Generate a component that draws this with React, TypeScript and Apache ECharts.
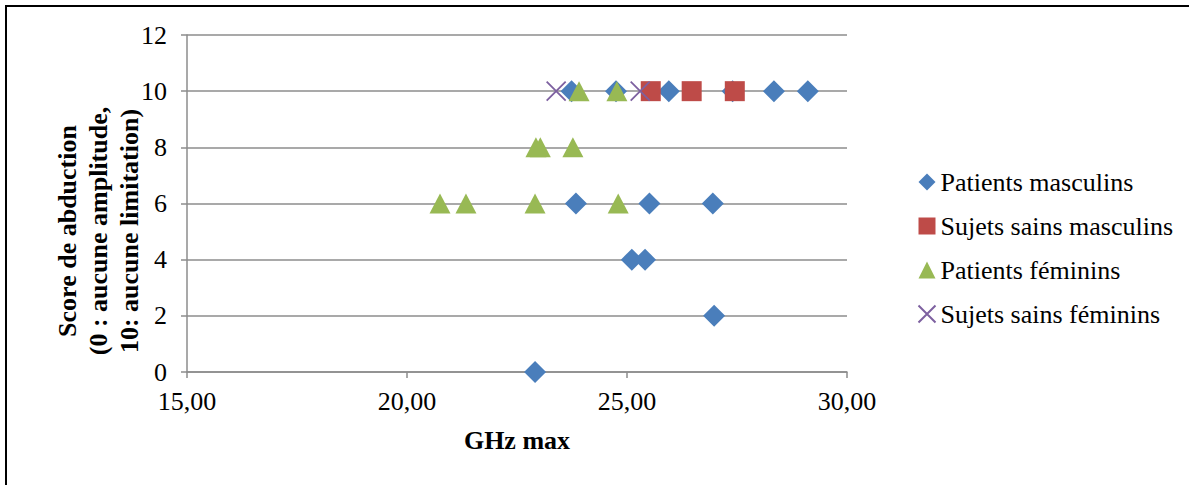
import React, { useEffect, useRef } from "react";
import * as echarts from "echarts";

const seriesNames = [
  "Patients masculins",
  "Sujets sains masculins",
  "Patients féminins",
  "Sujets sains féminins",
];

const patientsMasculinsX = [23.74, 24.75, 25.95, 27.4, 28.34, 29.11, 23.84, 25.51, 26.95, 25.11, 25.41, 26.98, 22.91];
const patientsMasculinsY = [10, 10, 10, 10, 10, 10, 6, 6, 6, 4, 4, 2, 0];

const sujetsSainsMasculinsX = [25.54, 26.47, 27.45];
const sujetsSainsMasculinsY = [10, 10, 10];

const patientsFemininsX = [23.91, 24.77, 22.93, 23.03, 23.77, 20.75, 21.34, 22.91, 24.8];
const patientsFemininsY = [10, 10, 8, 8, 8, 6, 6, 6, 6];

const sujetsSainsFemininsX = [23.39, 25.3];
const sujetsSainsFemininsY = [10, 10];

const xTitle = "GHz max";
const yTitle = "Score de abduction\n(0 : aucune amplitude,\n10: aucune limitation)";

const colors = ["#4A7EBB", "#BE4B48", "#98B954", "#7D60A0"];
const FONT = "Liberation Serif";

const zip = (xs: number[], ys: number[]) => xs.map((x, i) => [x, ys[i]]);

const CROSS = "path://M0,0L20,20M20,0L0,20";

export default function App() {
  const ref = useRef<HTMLDivElement>(null);
  useEffect(() => {
    if (!ref.current) return;
    const chart = echarts.init(ref.current, null, { renderer: "svg" });
    const gridColor = "#8C8C8C";
    chart.setOption({
      animation: false,
      backgroundColor: "#fff",
      textStyle: { fontFamily: FONT },
      grid: { left: 187, right: 342, top: 35, bottom: 113, containLabel: false },
      xAxis: {
        type: "value",
        min: 15,
        max: 30,
        interval: 5,
        axisLine: { show: true, onZero: false, lineStyle: { color: gridColor, width: 1.5 } },
        axisTick: { show: true, length: 6, lineStyle: { color: gridColor, width: 1.5 } },
        splitLine: { show: false },
        axisLabel: {
          margin: 16,
          fontFamily: FONT,
          fontSize: 26,
          color: "#000",
          formatter: (v: number) => v.toFixed(2).replace(".", ","),
        },
      },
      yAxis: {
        type: "value",
        min: 0,
        max: 12,
        interval: 2,
        axisLine: { show: true, onZero: false, lineStyle: { color: gridColor, width: 1.5 } },
        axisTick: { show: true, length: 6, lineStyle: { color: gridColor, width: 1.5 } },
        splitLine: { show: true, lineStyle: { color: gridColor, width: 1.5 } },
        axisLabel: { margin: 20, fontFamily: FONT, fontSize: 26, color: "#000" },
      },
      legend: {
        orient: "vertical",
        left: 916,
        top: 169,
        padding: 0,
        itemWidth: 17,
        itemHeight: 17,
        itemGap: 18,
        textStyle: { fontFamily: FONT, fontSize: 26, color: "#000", lineHeight: 26 },
        data: seriesNames,
      },
      graphic: [
        {
          type: "rect",
          shape: { x: 6, y: 6, width: 1300, height: 600 },
          style: { fill: "none", stroke: "#000", lineWidth: 2 },
          silent: true,
        },
        {
          type: "text",
          x: 98,
          y: 231,
          rotation: Math.PI / 2,
          style: {
            text: yTitle,
            fontFamily: FONT,
            fontSize: 26,
            fontWeight: "bold",
            lineHeight: 31,
            fill: "#000",
            align: "center",
            verticalAlign: "middle",
          },
        },
        {
          type: "text",
          x: 517,
          y: 440,
          style: {
            text: xTitle,
            fontFamily: FONT,
            fontSize: 26,
            fontWeight: "bold",
            fill: "#000",
            align: "center",
            verticalAlign: "middle",
          },
        },
      ],
      series: [
        {
          name: seriesNames[0],
          type: "scatter",
          symbol: "diamond",
          symbolSize: 22,
          itemStyle: { color: colors[0], opacity: 1 },
          data: zip(patientsMasculinsX, patientsMasculinsY),
        },
        {
          name: seriesNames[1],
          type: "scatter",
          symbol: "rect",
          symbolSize: 20,
          itemStyle: { color: colors[1], opacity: 1 },
          data: zip(sujetsSainsMasculinsX, sujetsSainsMasculinsY),
        },
        {
          name: seriesNames[2],
          type: "scatter",
          symbol: "triangle",
          symbolSize: [21, 20],
          itemStyle: { color: colors[2], opacity: 1 },
          data: zip(patientsFemininsX, patientsFemininsY),
        },
        {
          name: seriesNames[3],
          type: "scatter",
          symbol: CROSS,
          symbolSize: 19,
          itemStyle: { color: "none", borderColor: colors[3], borderWidth: 1.8, opacity: 1 },
          data: zip(sujetsSainsFemininsX, sujetsSainsFemininsY),
        },
      ],
    });
    return () => chart.dispose();
  }, []);
  return (
    <div
      ref={ref}
      style={{ position: "absolute", left: 0, top: 0, width: 1189, height: 485 }}
    />
  );
}
